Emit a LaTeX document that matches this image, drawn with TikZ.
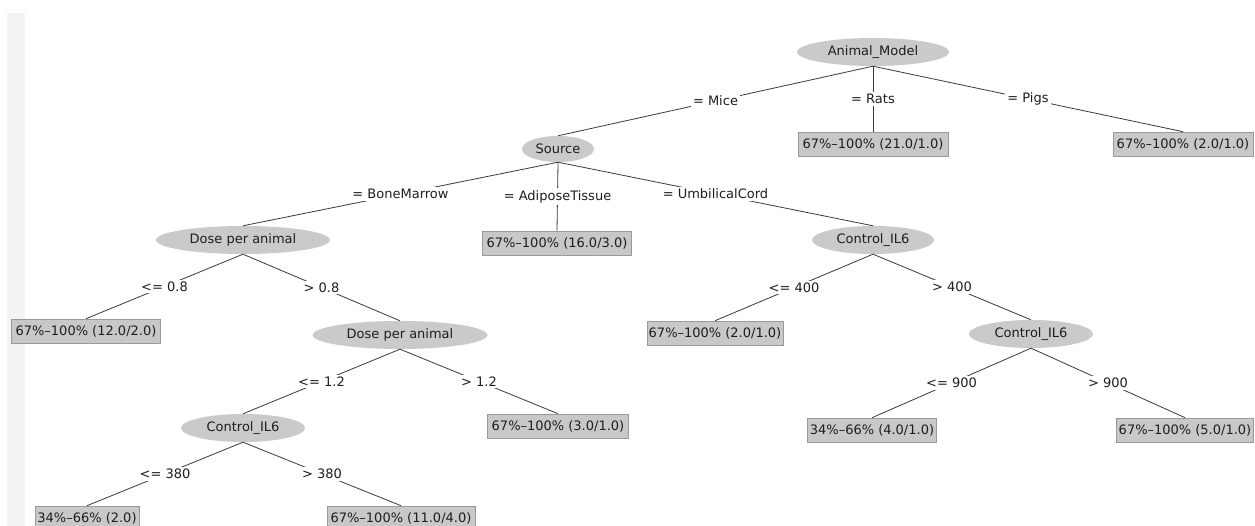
\documentclass[tikz,border=0pt]{standalone}
\usepackage{fontspec}
\setmainfont{DejaVu Sans}
\usetikzlibrary{shapes.geometric}
\definecolor{nodegray}{HTML}{CACACA}
\definecolor{boxgray}{HTML}{C8C8C8}
\definecolor{boxline}{HTML}{9A9A9A}
\definecolor{edgecol}{HTML}{3A3A3A}
\definecolor{txt}{HTML}{1E1E1E}
\definecolor{strip}{HTML}{F3F3F3}
\begin{document}
\begin{tikzpicture}[x=1pt,y=-1pt, font=\fontsize{13}{15}\selectfont, text=txt,
 split/.style={ellipse, fill=nodegray, inner sep=0pt, minimum height=28pt},
 leaf/.style={rectangle, fill=boxgray, draw=boxline, line width=0.6pt, inner sep=0pt, minimum height=24pt},
 edge/.style={draw=edgecol, line width=0.8pt},
 elabel/.style={fill=white, inner sep=2pt, midway}]
\useasboundingbox (0,0) rectangle (1255,526);
\fill[white] (0,0) rectangle (1255,526);
\fill[strip] (7,13) rectangle (25,526);

\node[split, minimum width=152pt] (am) at (873,52) {Animal\_Model};
\node[split, minimum width=72pt, minimum height=26pt] (src) at (558,149) {Source};
\node[leaf, minimum width=150pt] (rats) at (873,144) {67\%–100\% (21.0/1.0)};
\node[leaf, minimum width=140pt] (pigs) at (1183,144) {67\%–100\% (2.0/1.0)};
\node[split, minimum width=174pt] (dose1) at (243,240) {Dose per animal};
\node[leaf, minimum width=149pt] (adip) at (557,243) {67\%–100\% (16.0/3.0)};
\node[split, minimum width=122pt] (cil1) at (873,240) {Control\_IL6};
\node[leaf, minimum width=149pt] (l12) at (86,331) {67\%–100\% (12.0/2.0)};
\node[split, minimum width=175pt] (dose2) at (400,335) {Dose per animal};
\node[leaf, minimum width=136pt] (l2) at (715,333) {67\%–100\% (2.0/1.0)};
\node[split, minimum width=124pt] (cil2) at (1031,334) {Control\_IL6};
\node[split, minimum width=124pt] (cil3) at (243,428) {Control\_IL6};
\node[leaf, minimum width=141pt] (l3) at (558,426) {67\%–100\% (3.0/1.0)};
\node[leaf, minimum width=129pt] (l4) at (872,430) {34\%–66\% (4.0/1.0)};
\node[leaf, minimum width=137pt] (l5) at (1185,430) {67\%–100\% (5.0/1.0)};
\node[leaf, minimum width=104pt] (l6) at (87,518) {34\%–66\% (2.0)};
\node[leaf, minimum width=148pt] (l7) at (401,518) {67\%–100\% (11.0/4.0)};

\draw[edge] (am.south) -- node[elabel]{= Mice} (src.north);
\draw[edge] (am.south) -- node[elabel]{= Rats} (rats.north);
\draw[edge] (am.south) -- node[elabel]{= Pigs} (pigs.north);
\draw[edge] (src.south) -- node[elabel]{= BoneMarrow} (dose1.north);
\draw[edge] (src.south) -- node[elabel]{= AdiposeTissue} (adip.north);
\draw[edge] (src.south) -- node[elabel]{= UmbilicalCord} (cil1.north);
\draw[edge] (dose1.south) -- node[elabel]{<= 0.8} (l12.north);
\draw[edge] (dose1.south) -- node[elabel]{> 0.8} (dose2.north);
\draw[edge] (cil1.south) -- node[elabel]{<= 400} (l2.north);
\draw[edge] (cil1.south) -- node[elabel]{> 400} (cil2.north);
\draw[edge] (dose2.south) -- node[elabel]{<= 1.2} (cil3.north);
\draw[edge] (dose2.south) -- node[elabel]{> 1.2} (l3.north);
\draw[edge] (cil2.south) -- node[elabel]{<= 900} (l4.north);
\draw[edge] (cil2.south) -- node[elabel]{> 900} (l5.north);
\draw[edge] (cil3.south) -- node[elabel]{<= 380} (l6.north);
\draw[edge] (cil3.south) -- node[elabel]{> 380} (l7.north);
\end{tikzpicture}
\end{document}
